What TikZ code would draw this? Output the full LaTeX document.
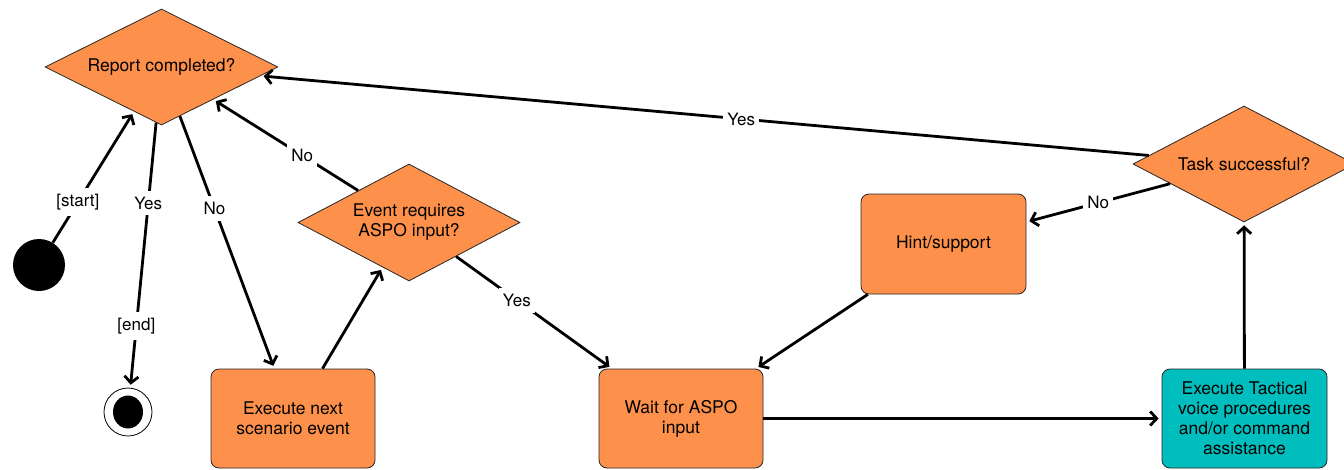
\documentclass[tikz,border=0pt]{standalone}
\usepackage{fontspec}
\setmainfont{TeX Gyre Heros}
\usetikzlibrary{shapes.geometric,arrows.meta}
\definecolor{nodeorange}{RGB}{253,145,75}
\definecolor{nodeteal}{RGB}{0,190,190}
\newcommand\mynodefont{\fontsize{17.5}{20}\selectfont}
\newcommand\mylblfont{\fontsize{17}{19}\selectfont}
\begin{document}
\begin{tikzpicture}[x=1pt,y=-1pt,
  box/.style={draw=black!85, line width=0.8pt, fill=nodeorange, rounded corners=8pt,
    minimum width=164pt, minimum height=99pt, align=center, font=\mynodefont, inner sep=0pt},
  dec/.style={diamond, shape aspect=2, draw=black!85, line width=0.8pt, fill=nodeorange, align=center,
    font=\mynodefont, inner sep=0pt},
  flow/.style={line width=2.8pt, shorten >=3pt, -{Straight Barb[length=6.5pt,width=14pt]}},
  lbl/.style={fill=white, font=\mylblfont, inner xsep=4pt, inner ysep=6pt}]
\useasboundingbox (0,0) rectangle (1344,469);

\node[dec, minimum width=233pt, minimum height=116pt] (report) at (161.5,67) {Report completed?};
\node[circle, fill=black, minimum size=52pt, inner sep=0pt] (start) at (39,265) {};
\node[circle, draw, line width=0.8pt, fill=white, minimum size=48pt, inner sep=0pt] (end) at (128,412) {};
\fill (end.center) ellipse (15pt and 16.5pt);
\node[box] (exec) at (293,418.5) {Execute next\\scenario event};
\node[dec, minimum width=222pt, minimum height=117pt] (event) at (409,222.5) {Event requires\\ASPO input?};
\node[box] (wait) at (681,418.5) {Wait for ASPO\\input};
\node[box, minimum width=165pt, minimum height=100pt] (hint) at (943.5,244) {Hint/support};
\node[dec, minimum width=222pt, minimum height=116pt] (task) at (1244,164) {Task successful?};
\node[box, fill=nodeteal, minimum width=165pt] (tact) at (1244.5,418.5)
  {Execute Tactical\\voice procedures\\and/or command\\assistance};

\draw[flow] (start) -- node[lbl, pos=0.31] {[start]} (report);
\draw[flow] (report) -- node[lbl, pos=0.303] {Yes} node[lbl, pos=0.766] {[end]} (end);
\draw[flow] (report) -- node[lbl, pos=0.365] {No} (exec);
\draw[flow] (exec) -- (event);
\draw[flow] (event) -- node[lbl, pos=0.386] {No} (report);
\draw[flow] (event) -- node[lbl, pos=0.39] {Yes} (wait);
\draw[flow] (wait) -- (tact);
\draw[flow] (tact) -- (task);
\draw[flow] (task) -- node[lbl, pos=0.5] {No} (hint);
\draw[flow] (hint) -- (wait);
\draw[flow] (task) -- node[lbl, pos=0.459] {Yes} (report);
\end{tikzpicture}
\end{document}
